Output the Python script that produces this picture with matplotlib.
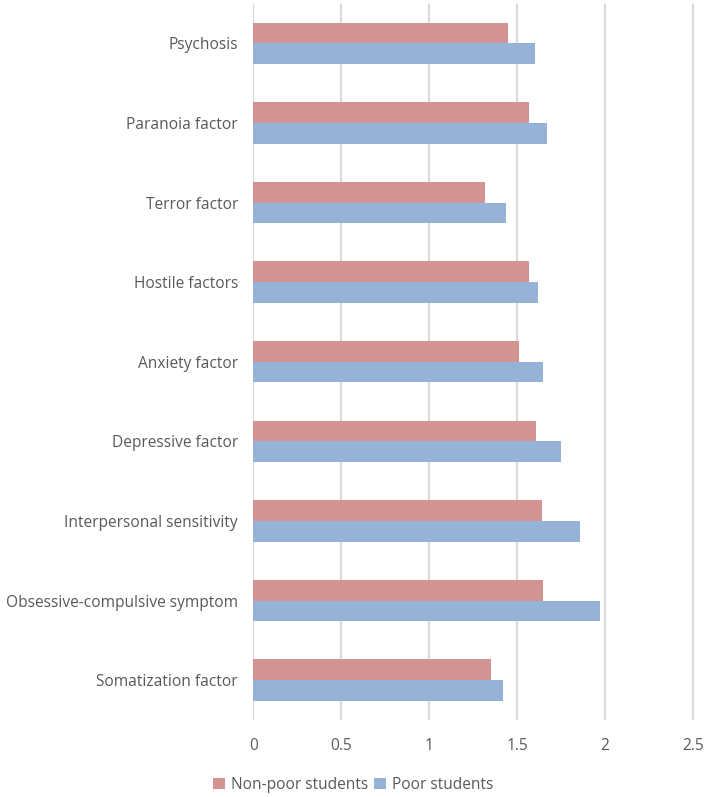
import matplotlib
matplotlib.use("Agg")
import matplotlib.pyplot as plt
import numpy as np

categories = ["Somatization factor", "Obsessive-compulsive symptom", "Interpersonal sensitivity",
              "Depressive factor", "Anxiety factor", "Hostile factors", "Terror factor",
              "Paranoia factor", "Psychosis"]
non_poor = [1.35, 1.65, 1.64, 1.61, 1.51, 1.57, 1.32, 1.57, 1.45]
poor = [1.42, 1.97, 1.86, 1.75, 1.65, 1.62, 1.44, 1.67, 1.60]
xticks = [0, 0.5, 1, 1.5, 2, 2.5]
xticklabels = ["0", "0.5", "1", "1.5", "2", "2.5"]

RED = "#D39392"
BLUE = "#95B3D7"
TXT = "#595959"
GRID = "#D9D9D9"

plt.rcParams['font.family'] = ['Open Sans', 'DejaVu Sans']

fig = plt.figure(figsize=(7.08, 7.97), dpi=100)
ax = fig.add_axes([253.3/708, 1-720/797, (2.58*175.8)/708, (720-3.5)/797])

y = np.arange(len(categories))
h = 0.26
ax.barh(y + h/2, non_poor, height=h, color=RED, zorder=3, label="Non-poor students")
ax.barh(y - h/2, poor, height=h, color=BLUE, zorder=3, label="Poor students")

ax.set_ylim(-0.5, len(categories) - 0.5)
ax.set_xlim(0, 2.58)
ax.set_xticks(xticks)
ax.set_xticklabels(xticklabels)
ax.set_yticks(y)
ax.set_yticklabels(categories)
ax.xaxis.grid(True, color=GRID, linewidth=1.5, zorder=0)
ax.set_axisbelow(True)
for s in ax.spines.values():
    s.set_visible(False)
ax.axvline(0, color=GRID, linewidth=1.5, zorder=1)
ax.tick_params(axis='both', length=0, colors=TXT, labelsize=11.2)
ax.tick_params(axis='x', pad=13)
ax.tick_params(axis='y', pad=11)

handles, labels = ax.get_legend_handles_labels()
leg = fig.legend(handles, labels, loc='center', bbox_to_anchor=(0.499, 1-785/797), ncol=2,
                 frameon=False, fontsize=11.2, handlelength=0.75, handleheight=0.75,
                 handletextpad=0.4, columnspacing=0.4)
for t in leg.get_texts():
    t.set_color(TXT)

fig.savefig("out.png", dpi=100)
